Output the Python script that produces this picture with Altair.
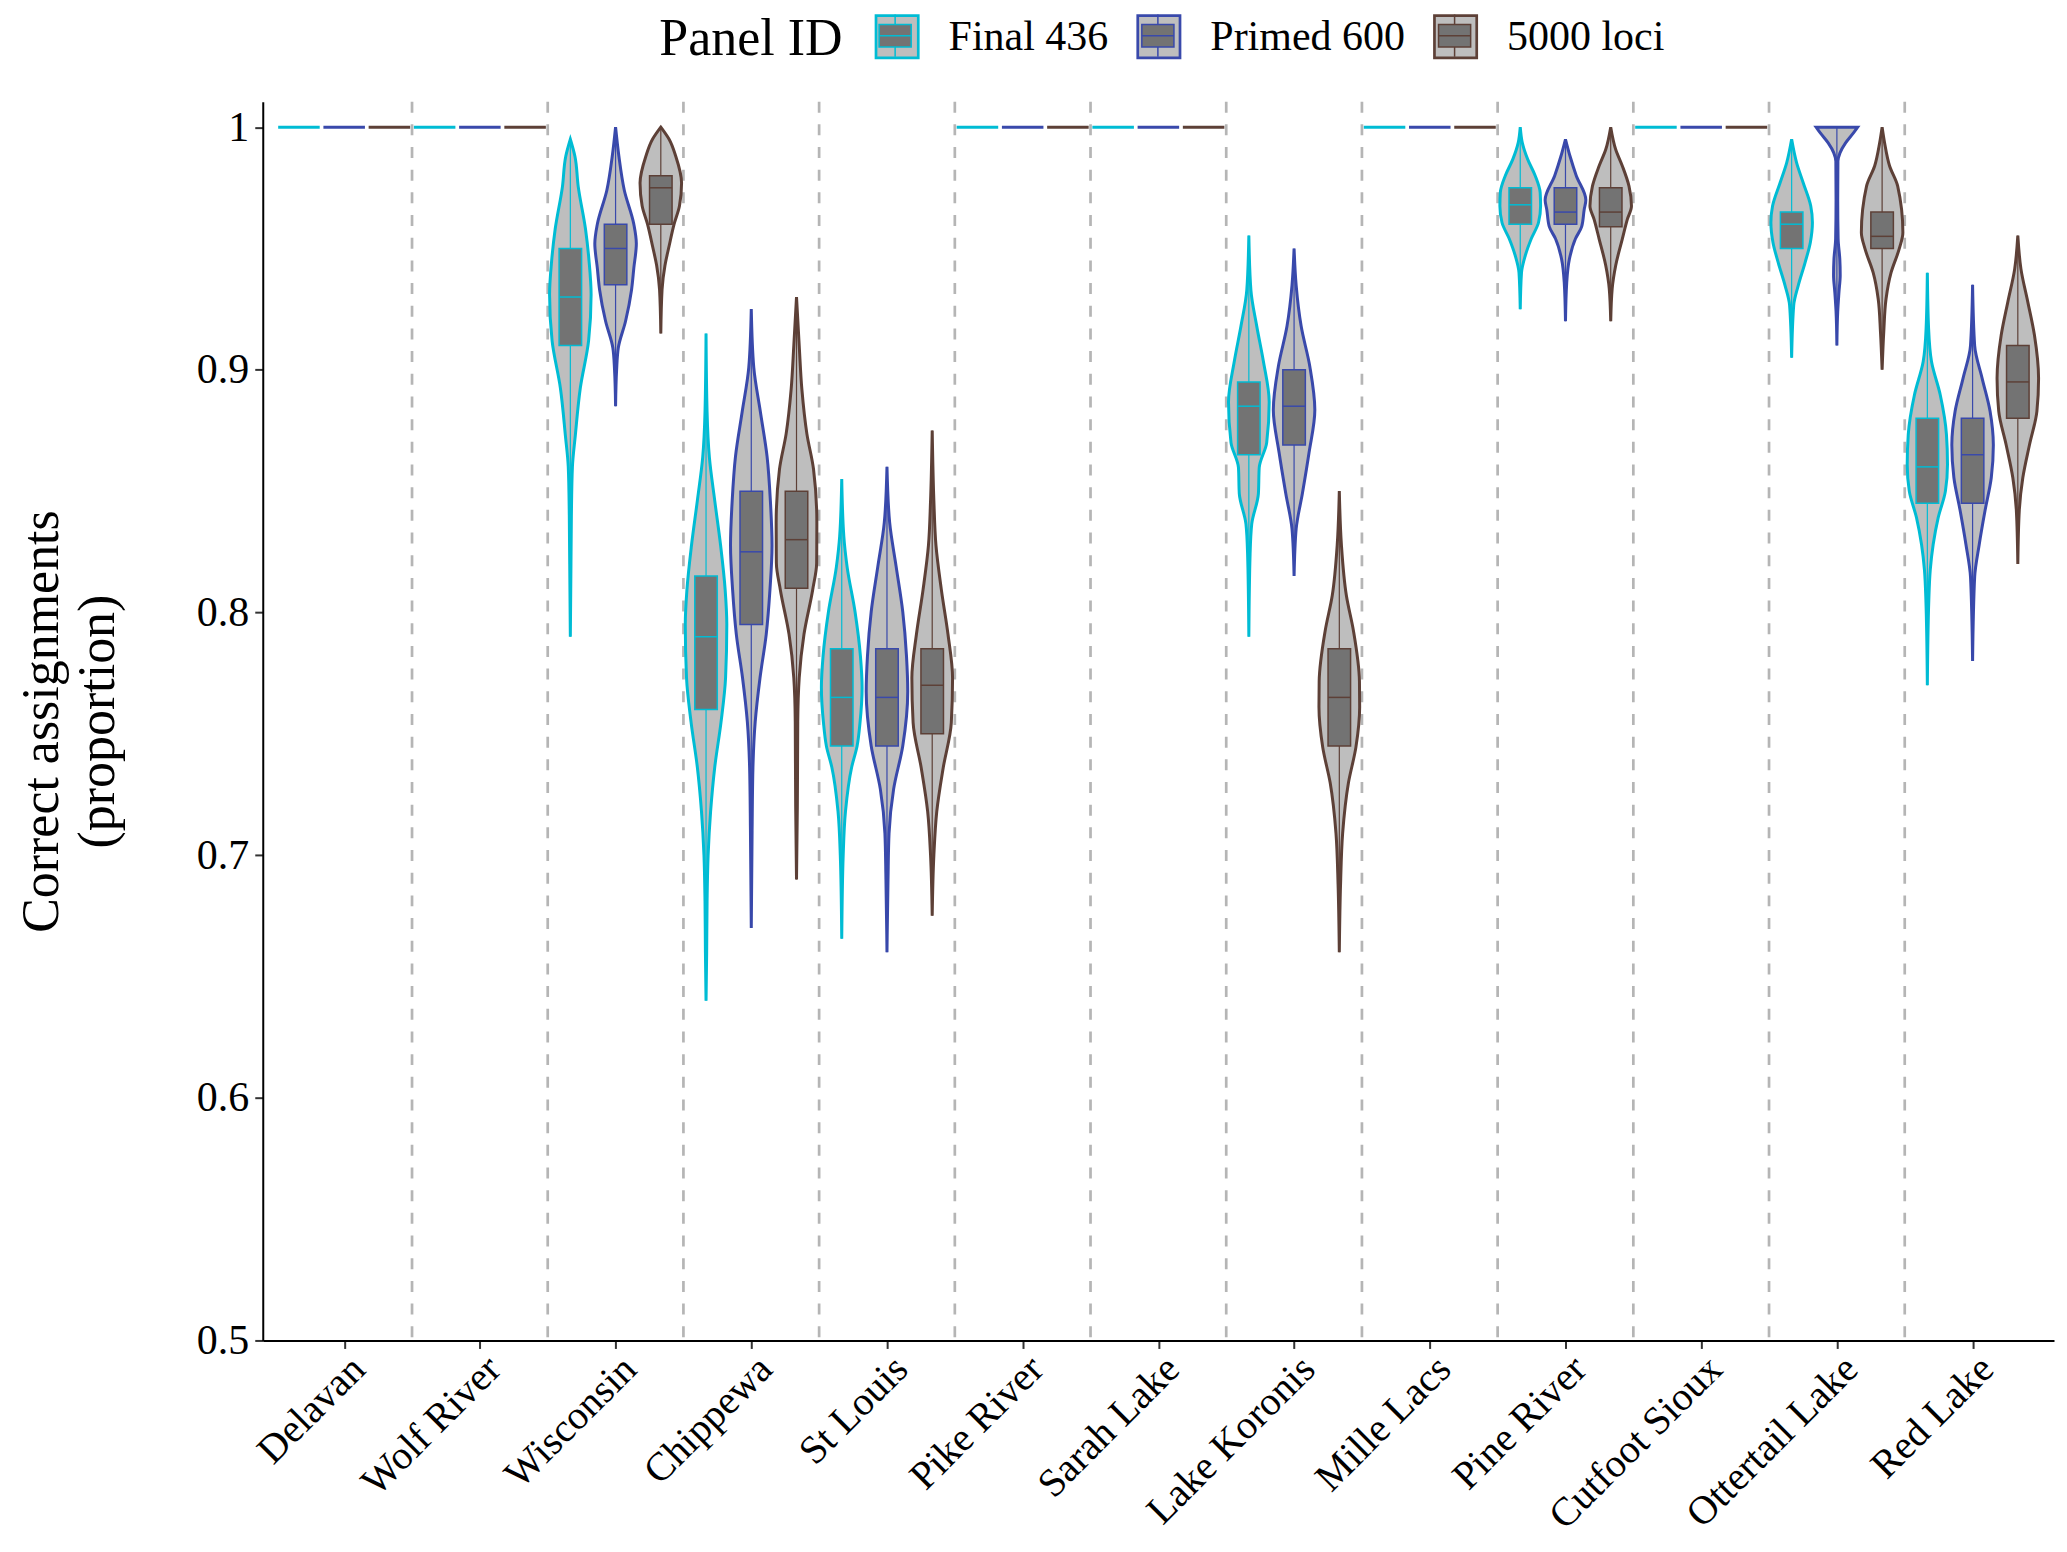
import json
import altair as alt
import pandas as pd

# ---------------- data ----------------
populations = ["Delavan", "Wolf River", "Wisconsin", "Chippewa", "St Louis",
               "Pike River", "Sarah Lake", "Lake Koronis", "Mille Lacs",
               "Pine River", "Cutfoot Sioux", "Ottertail Lake", "Red Lake"]
panels = ["Final 436", "Primed 600", "5000 loci"]
panel_colors = ["#00BCD4", "#3949AB", "#5D4037"]

# populations where every replicate assigned 100 % correctly (violin collapses to a line at 1)
flat_populations = ["Delavan", "Wolf River", "Pike River", "Sarah Lake", "Mille Lacs", "Cutfoot Sioux"]

# violin outlines: proportion values and relative half-width (1 = widest)
wisconsin_y = [[0.995, 0.988, 0.9755, 0.958, 0.945, 0.931, 0.912, 0.8925, 0.873, 0.86, 0.84, 0.82, 0.79],
               [1.0, 0.988, 0.974, 0.96, 0.952, 0.942, 0.933, 0.92, 0.909, 0.9, 0.885],
               [1.0, 0.995, 0.988, 0.977, 0.9676, 0.96, 0.951, 0.943, 0.933, 0.915]]
wisconsin_w = [[0, 0.22, 0.38, 0.73, 0.9, 1.0, 0.88, 0.48, 0.24, 0.1, 0.05, 0.03, 0],
               [0, 0.16, 0.42, 0.88, 1.0, 0.88, 0.77, 0.48, 0.13, 0.05, 0],
               [0, 0.4, 0.72, 1.0, 0.9, 0.64, 0.4, 0.2, 0.06, 0]]

chippewa_y = [[0.915, 0.8826, 0.864, 0.846, 0.8277, 0.8094, 0.795, 0.773, 0.7547, 0.7363, 0.718, 0.70, 0.681, 0.66, 0.64],
              [0.925, 0.901, 0.8826, 0.8643, 0.846, 0.8277, 0.8094, 0.791, 0.773, 0.755, 0.736, 0.71, 0.67],
              [0.93, 0.91, 0.8918, 0.8736, 0.859, 0.837, 0.8204, 0.8094, 0.791, 0.773, 0.755, 0.72, 0.69]]
chippewa_w = [[0, 0.05, 0.16, 0.42, 0.7, 0.92, 1.0, 0.94, 0.72, 0.42, 0.22, 0.1, 0.05, 0.03, 0],
              [0, 0.12, 0.44, 0.76, 0.92, 1.0, 0.9, 0.72, 0.42, 0.19, 0.08, 0.04, 0],
              [0, 0.13, 0.26, 0.5, 0.82, 0.98, 0.97, 0.78, 0.36, 0.13, 0.06, 0.04, 0]]

stlouis_y = [[0.855, 0.8314, 0.8187, 0.8003, 0.782, 0.769, 0.7546, 0.745, 0.7363, 0.718, 0.70, 0.6655],
             [0.86, 0.837, 0.819, 0.8003, 0.782, 0.7674, 0.745, 0.7272, 0.709, 0.69, 0.66],
             [0.875, 0.846, 0.8277, 0.8094, 0.791, 0.773, 0.7546, 0.736, 0.718, 0.70, 0.675]]
stlouis_w = [[0, 0.1, 0.26, 0.64, 0.9, 0.98, 0.88, 0.74, 0.48, 0.18, 0.07, 0],
             [0, 0.13, 0.44, 0.76, 0.94, 1.0, 0.76, 0.32, 0.1, 0.05, 0],
             [0, 0.08, 0.18, 0.44, 0.76, 0.98, 0.92, 0.53, 0.22, 0.08, 0]]

koronis_y = [[0.9553, 0.9327, 0.918, 0.9035, 0.8867, 0.87, 0.8597, 0.849, 0.8365, 0.824, 0.79],
             [0.95, 0.9348, 0.918, 0.9013, 0.8835, 0.8658, 0.849, 0.8344, 0.815],
             [0.85, 0.828, 0.807, 0.7925, 0.7716, 0.761, 0.7445, 0.7298, 0.709, 0.688, 0.66]]
koronis_w = [[0, 0.1, 0.38, 0.7, 0.98, 0.86, 0.5, 0.46, 0.14, 0.06, 0],
             [0, 0.1, 0.34, 0.76, 1.0, 0.72, 0.4, 0.1, 0],
             [0, 0.1, 0.34, 0.68, 0.97, 0.98, 0.8, 0.44, 0.16, 0.06, 0]]

pineriver_y = [[1.0, 0.9935, 0.9867, 0.98, 0.973, 0.9675, 0.9607, 0.954, 0.947, 0.94, 0.925],
               [0.995, 0.988, 0.98, 0.97, 0.966, 0.959, 0.954, 0.9457, 0.936, 0.92],
               [1.0, 0.9908, 0.984, 0.9757, 0.9675, 0.962, 0.954, 0.943, 0.9334, 0.92]]
pineriver_w = [[0, 0.1, 0.36, 0.72, 0.96, 0.98, 0.88, 0.53, 0.24, 0.06, 0],
               [0, 0.22, 0.52, 0.98, 0.9, 0.78, 0.48, 0.19, 0.06, 0],
               [0, 0.24, 0.56, 0.88, 1.0, 0.8, 0.56, 0.24, 0.07, 0]]

ottertail_y = [[0.995, 0.9853, 0.977, 0.9675, 0.9607, 0.9525, 0.944, 0.9348, 0.9266, 0.905],
               [1.0, 0.9976, 0.9935, 0.9894, 0.986, 0.97, 0.954, 0.9457, 0.939, 0.932, 0.924, 0.91],
               [1.0, 0.9935, 0.984, 0.9757, 0.9566, 0.95, 0.94, 0.9293, 0.9157, 0.9]]
ottertail_w = [[0, 0.24, 0.56, 0.92, 1.0, 0.9, 0.64, 0.32, 0.1, 0],
               [1.0, 0.8, 0.42, 0.15, 0.05, 0.04, 0.06, 0.14, 0.16, 0.1, 0.04, 0],
               [0, 0.12, 0.36, 0.75, 1.0, 0.83, 0.43, 0.19, 0.08, 0]]

redlake_y = [[0.94, 0.917, 0.9034, 0.8897, 0.8733, 0.861, 0.85, 0.839, 0.828, 0.8175, 0.805, 0.77],
             [0.935, 0.91, 0.8965, 0.883, 0.869, 0.8555, 0.842, 0.828, 0.8146, 0.78],
             [0.9553, 0.9416, 0.928, 0.9143, 0.8965, 0.883, 0.869, 0.8555, 0.842, 0.82]]
redlake_w = [[0, 0.06, 0.2, 0.62, 0.92, 0.97, 0.87, 0.52, 0.28, 0.14, 0.07, 0],
             [0, 0.1, 0.46, 0.84, 1.0, 0.9, 0.6, 0.32, 0.1, 0],
             [0, 0.15, 0.48, 0.8, 1.0, 0.92, 0.56, 0.24, 0.07, 0]]

violin_pops = ["Wisconsin", "Chippewa", "St Louis", "Lake Koronis", "Pine River", "Ottertail Lake", "Red Lake"]
violin_y = [wisconsin_y, chippewa_y, stlouis_y, koronis_y, pineriver_y, ottertail_y, redlake_y]
violin_w = [wisconsin_w, chippewa_w, stlouis_w, koronis_w, pineriver_w, ottertail_w, redlake_w]

# box statistics per violin population (Final 436, Primed 600, 5000 loci)
box_q1 = [[0.910, 0.935, 0.960], [0.760, 0.795, 0.810], [0.745, 0.745, 0.750], [0.865, 0.869, 0.745],
          [0.960, 0.960, 0.959], [0.950, 1.000, 0.950], [0.845, 0.845, 0.880]]
box_med = [[0.930, 0.950, 0.975], [0.790, 0.825, 0.830], [0.765, 0.765, 0.770], [0.885, 0.885, 0.765],
           [0.968, 0.965, 0.965], [0.960, 1.000, 0.955], [0.860, 0.865, 0.895]]
box_q3 = [[0.950, 0.960, 0.980], [0.815, 0.850, 0.850], [0.785, 0.785, 0.785], [0.895, 0.900, 0.785],
          [0.975, 0.975, 0.975], [0.965, 1.000, 0.965], [0.880, 0.880, 0.910]]

# ---------------- geometry helpers ----------------
dodge = [-1 / 3, 0.0, 1 / 3]
VIOLIN_HW = 0.153
BOX_HW = 0.083
FONT = "Liberation Serif"

vrows, brows, frows = [], [], []
for pi, pop in enumerate(violin_pops):
    base = populations.index(pop)
    for j in range(3):
        c = base + dodge[j]
        for yv, wv in zip(violin_y[pi][j], violin_w[pi][j]):
            vrows.append({"vid": f"{pop}|{j}", "panel": panels[j], "y": yv,
                          "xl": c - wv * VIOLIN_HW, "xr": c + wv * VIOLIN_HW})
        brows.append({"center": c, "bxl": c - BOX_HW, "bxr": c + BOX_HW, "panel": panels[j],
                      "q1": box_q1[pi][j], "med": box_med[pi][j], "q3": box_q3[pi][j],
                      "lo": min(violin_y[pi][j]), "hi": max(violin_y[pi][j]),
                      "color": panel_colors[j]})
for pop in flat_populations:
    base = populations.index(pop)
    for j in range(3):
        c = base + dodge[j]
        frows.append({"xl": c - VIOLIN_HW, "xr": c + VIOLIN_HW, "y": 1.0, "color": panel_colors[j]})

vdf = pd.DataFrame(vrows)
bdf = pd.DataFrame(brows)
fdf = pd.DataFrame(frows)
sdf = pd.DataFrame({"x": [i + 0.5 for i in range(len(populations) - 1)]})

# ---------------- scales & axes ----------------
xscale = alt.Scale(domain=[-0.6, 12.6], nice=False, zero=False)
yscale = alt.Scale(domain=[0.5, 1.0105], nice=False, zero=False)

xaxis = alt.Axis(values=list(range(len(populations))),
                 labelExpr=json.dumps(populations) + "[datum.value]",
                 labelAngle=-45, labelAlign="right", labelBaseline="top",
                 labelFont=FONT, labelFontSize=40, labelColor="black", labelPadding=0,
                 labelOverlap=False, labelLimit=500, labelFlush=False,
                 tickSize=8, tickWidth=2, tickColor="#333333",
                 domainColor="black", domainWidth=2, grid=False, title=None)
yaxis = alt.Axis(values=[0.5, 0.6, 0.7, 0.8, 0.9, 1.0], format="~g",
                 labelFont=FONT, labelFontSize=42, labelColor="black", labelPadding=6,
                 labelFlush=False,
                 tickSize=8, tickWidth=2, tickColor="#333333",
                 domainColor="black", domainWidth=2, grid=False,
                 title=["Correct assignments", "(proportion)"],
                 titleFont=FONT, titleFontSize=52, titleFontWeight="normal",
                 titleColor="black", titlePadding=72, titleLineHeight=56)

# legend: one key per panel, an outer square (with label) and an inner box glyph on top;
# the first key carries the legend title "Panel ID" on its left
TITLE_X = 397
LEG_X = [611, 874, 1171]
LEG_Y = -88
LEG_SIZE = 1790
INNER_PATH = "M-0.76,-0.53H0.76V0.53H-0.76Z M-0.76,0H0.76 M0,-1V-0.53 M0,0.53V1"


def outer_legend(k):
    extra = {}
    if k == 0:
        extra = dict(title="Panel ID", titleOrient="left", titleFont=FONT, titleFontSize=52,
                     titleFontWeight="normal", titleColor="black", titlePadding=31, titleLimit=500)
        lx = TITLE_X
    else:
        extra = dict(title=None)
        lx = LEG_X[k]
    return alt.Legend(orient="none", legendX=lx, legendY=LEG_Y,
                      labelFont=FONT, labelFontSize=42, labelColor="black", labelLimit=500,
                      labelOffset=28.5, symbolType="square", symbolSize=LEG_SIZE,
                      symbolFillColor="#BEBEBE", symbolStrokeWidth=2.7, symbolOpacity=1, **extra)


def inner_legend(k):
    return alt.Legend(title=None, orient="none", legendX=LEG_X[k], legendY=LEG_Y,
                      labelExpr="''", labelFontSize=42, labelOffset=28.5,
                      symbolType=INNER_PATH, symbolSize=LEG_SIZE,
                      symbolFillColor="#737373", symbolStrokeWidth=1.5, symbolOpacity=1)


# ---------------- layers ----------------
layers = []
layers.append(
    alt.Chart(sdf).mark_rule(strokeDash=[11, 11.7], color="#B5B5B5", strokeWidth=2.7).encode(
        x=alt.X("x:Q", scale=xscale, axis=xaxis)
    )
)

for k, pname in enumerate(panels):
    layers.append(
        alt.Chart(vdf[vdf["panel"] == pname]).mark_area(
            orient="horizontal", interpolate="monotone", fill="#BEBEBE", opacity=1, strokeWidth=3
        ).encode(
            y=alt.Y("y:Q", scale=yscale, axis=yaxis),
            x=alt.X("xl:Q", scale=xscale, axis=xaxis, stack=None),
            x2="xr:Q",
            detail="vid:N",
            stroke=alt.Stroke("panel:N", scale=alt.Scale(domain=[pname], range=[panel_colors[k]]),
                              legend=outer_legend(k)),
        )
    )

layers.append(
    alt.Chart(bdf).mark_rule(strokeWidth=1.2).encode(
        x=alt.X("center:Q", scale=xscale, axis=xaxis),
        y=alt.Y("lo:Q", scale=yscale, axis=yaxis),
        y2="hi:Q",
        stroke=alt.Stroke("color:N", scale=None),
    )
)

for k, pname in enumerate(panels):
    layers.append(
        alt.Chart(bdf[bdf["panel"] == pname]).mark_rect(fill="#737373", strokeWidth=1.5, opacity=1).encode(
            x=alt.X("bxl:Q", scale=xscale, axis=xaxis),
            x2="bxr:Q",
            y=alt.Y("q1:Q", scale=yscale, axis=yaxis),
            y2="q3:Q",
            stroke=alt.Stroke("panel:N", scale=alt.Scale(domain=[pname], range=[panel_colors[k]]),
                              legend=inner_legend(k)),
        )
    )

layers.append(
    alt.Chart(bdf).mark_rule(strokeWidth=1.5).encode(
        x=alt.X("bxl:Q", scale=xscale, axis=xaxis),
        x2="bxr:Q",
        y=alt.Y("med:Q", scale=yscale, axis=yaxis),
        stroke=alt.Stroke("color:N", scale=None),
    )
)

layers.append(
    alt.Chart(fdf).mark_rule(strokeWidth=3).encode(
        x=alt.X("xl:Q", scale=xscale, axis=xaxis),
        x2="xr:Q",
        y=alt.Y("y:Q", scale=yscale, axis=yaxis),
        stroke=alt.Stroke("color:N", scale=None),
    )
)

chart = alt.layer(*layers).resolve_scale(
    stroke="independent"
).resolve_legend(
    stroke="independent"
).properties(
    width=1793, height=1240,
    autosize=alt.AutoSizeParams(type="none"),
    padding={"left": 255, "top": 93, "right": 5, "bottom": 203},
    background="white",
).configure_view(stroke=None)

chart.save("out.html", embed_options={"renderer": "svg", "actions": False})
